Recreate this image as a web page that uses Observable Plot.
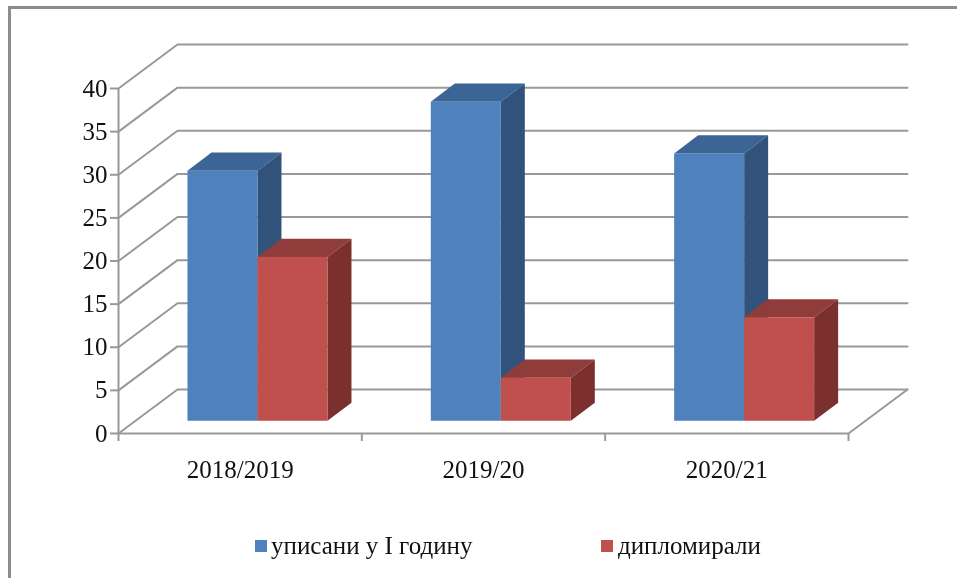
<!DOCTYPE html>
<html>
<head>
<meta charset="utf-8">
<script src="https://cdn.jsdelivr.net/npm/d3@7"></script>
<script src="https://cdn.jsdelivr.net/npm/@observablehq/plot@0.6"></script>
<style>
html,body{margin:0;padding:0;background:#fff;overflow:hidden}
#page{position:relative;width:957px;height:578px;overflow:hidden;filter:blur(0.45px)}
#frame{position:absolute;left:8px;top:6px;width:1000px;height:700px;border-left:3px solid #8c8c8c;border-top:3px solid #8c8c8c;pointer-events:none}
#legend{position:relative;height:58px;font-family:"Liberation Serif",serif;font-size:25px;color:#111}
#legend span{position:absolute;top:10px;line-height:32px;white-space:nowrap}
#legend i{position:absolute;top:20px;width:12px;height:12px}
svg{display:block}
</style>
</head>
<body>
<div id="page">
<div id="chart"></div>
<div id="legend"></div>
<div id="frame"></div>
</div>
<script>
const categories = ["2018/2019", "2019/20", "2020/21"];
const enrolled = [29, 37, 31];
const graduated = [19, 5, 12];
const yTicks = [0, 5, 10, 15, 20, 25, 30, 35, 40];
const seriesNames = ["уписани у I годину", "дипломирали"];
const blue = {front: "#4f81bd", top: "#3c6494", side: "#31527b"};
const red = {front: "#c0504d", top: "#8f3c3a", side: "#7b302e"};

// 3D projection expressed in data units
const wallX = 0.2425, wallY = 5.1;
const barW = 0.2877, barStart = 0.2855, lift = 1.42;
const depthX = 0.0986, depthY = 2.09;

const grid = yTicks.flatMap(v => [
  {v, x: 0, y: v},
  {v, x: wallX, y: v + wallY},
  {v, x: categories.length + wallX, y: v + wallY}
]);
const floorEdge = [{x: categories.length, y: 0}, {x: categories.length + wallX, y: wallY}];

function bars(values, slot) {
  return values.map((v, i) => ({
    x1: i + barStart + slot * barW,
    x2: i + barStart + (slot + 1) * barW,
    y1: lift,
    y2: lift + v
  }));
}
function sidePts(rows) {
  return rows.flatMap((b, i) => [
    {i, x: b.x2, y1: b.y1, y2: b.y2},
    {i, x: b.x2 + depthX, y1: b.y1 + depthY, y2: b.y2 + depthY}
  ]);
}
function topPts(rows) {
  return rows.flatMap((b, i) => [
    {i, x1: b.x1, x2: b.x2, y: b.y2},
    {i, x1: b.x1 + depthX, x2: b.x2 + depthX, y: b.y2 + depthY}
  ]);
}
function barMarks(rows, c) {
  return rows.flatMap((b, i) => {
    const one = [b];
    return [
      Plot.area(topPts(one), {x1: "x1", x2: "x2", y1: "y", y2: "y", fill: c.top}),
      Plot.area(sidePts(one), {x1: "x", x2: "x", y1: "y1", y2: "y2", fill: c.side}),
      Plot.rect(one, {x1: "x1", x2: "x2", y1: "y1", y2: "y2", fill: c.front})
    ];
  });
}
const blueBars = bars(enrolled, 0), redBars = bars(graduated, 1);
const gridStyle = {stroke: "#999", strokeWidth: 2};
const marks = [
  Plot.line(grid, {x: "x", y: "y", z: "v", ...gridStyle}),
  Plot.line(floorEdge, {x: "x", y: "y", ...gridStyle}),
  Plot.ruleY([0], {x1: 0, x2: categories.length, ...gridStyle}),
  Plot.ruleX([0], {y1: 0, y2: 40, ...gridStyle}),
  Plot.axisY({ticks: yTicks, tickSize: 8, tickPadding: 3, stroke: "#999", strokeWidth: 2, fontSize: 25, fill: "#111", label: null, fontFamily: "Liberation Serif"}),
  Plot.axisX({ticks: [0, 1, 2, 3], tickSize: 8, stroke: "#999", strokeWidth: 2, tickFormat: () => "", label: null}),
  Plot.axisX({ticks: [0.5, 1.5, 2.5], tickSize: 0, tickPadding: 27, fontSize: 25, fill: "#111", fontFamily: "Liberation Serif",
    tickFormat: d => categories[Math.floor(d)], label: null})
];
for (let i = 0; i < categories.length; i++) {
  marks.push(...barMarks([blueBars[i]], blue));
  marks.push(...barMarks([redBars[i]], red));
}
const chart = Plot.plot({
  width: 957,
  height: 520,
  marginLeft: 118,
  marginRight: 109,
  marginTop: 88,
  marginBottom: 87,
  x: {domain: [0, categories.length]},
  y: {domain: [0, 40]},
  style: {background: "transparent"},
  marks
});
document.getElementById("chart").append(chart);

const legend = document.getElementById("legend");
[[255, 271, seriesNames[0], blue.front], [601, 618, seriesNames[1], red.front]].forEach(([sx, tx, name, col]) => {
  const sw = document.createElement("i");
  sw.style.left = sx + "px"; sw.style.background = col;
  const t = document.createElement("span");
  t.style.left = tx + "px"; t.textContent = name;
  legend.append(sw, t);
});
</script>
</body>
</html>
